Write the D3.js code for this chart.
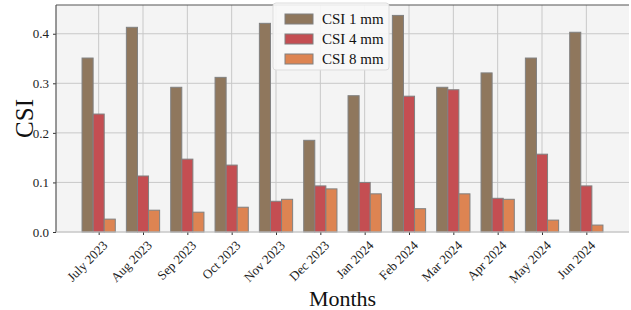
<!DOCTYPE html>
<html>
<head>
<meta charset="utf-8">
<script src="https://cdn.jsdelivr.net/npm/d3@7"></script>
<style>
  body { margin: 0; background: #fff; }
  svg { display: block; font-family: "Liberation Serif", "DejaVu Serif", serif; }
</style>
</head>
<body>
<script>
const months = ["July 2023", "Aug 2023", "Sep 2023", "Oct 2023", "Nov 2023", "Dec 2023",
  "Jan 2024", "Feb 2024", "Mar 2024", "Apr 2024", "May 2024", "Jun 2024"];
const seriesNames = ["CSI 1 mm", "CSI 4 mm", "CSI 8 mm"];
const csi1 = [0.351, 0.413, 0.292, 0.312, 0.421, 0.185, 0.275, 0.437, 0.292, 0.321, 0.351, 0.403];
const csi4 = [0.238, 0.113, 0.147, 0.135, 0.062, 0.093, 0.100, 0.274, 0.287, 0.068, 0.157, 0.093];
const csi8 = [0.026, 0.044, 0.040, 0.050, 0.066, 0.087, 0.077, 0.047, 0.077, 0.066, 0.024, 0.014];
const yTicks = [0.0, 0.1, 0.2, 0.3, 0.4];
const colors = ["#8f775d", "#c44e52", "#dd8452"];

const width = 631, height = 310;
const margin = {left: 56, top: 5, right: 2, bottom: 78};
const serif = '"Liberation Serif", "DejaVu Serif", serif';

const svg = d3.select("body").append("svg")
    .attr("width", width)
    .attr("height", height);

const bw = 0.25;
const x = d3.scaleLinear()
    .domain([-0.9625, months.length - 1 + 0.9625])
    .range([margin.left, width - margin.right]);
const y = d3.scaleLinear()
    .domain([0, 0.458])
    .range([height - margin.bottom, margin.top]);

// plot background
svg.append("rect")
    .attr("x", margin.left).attr("y", margin.top)
    .attr("width", width - margin.right - margin.left)
    .attr("height", height - margin.bottom - margin.top)
    .attr("fill", "#f4f4f4");

// grid
svg.append("g").selectAll("line.gy")
    .data(yTicks).join("line")
    .attr("x1", margin.left).attr("x2", width - margin.right)
    .attr("y1", d => y(d)).attr("y2", d => y(d))
    .attr("stroke", "#c8c8c8").attr("stroke-width", 1);
svg.append("g").selectAll("line.gx")
    .data(months).join("line")
    .attr("x1", (d, i) => x(i)).attr("x2", (d, i) => x(i))
    .attr("y1", margin.top).attr("y2", height - margin.bottom)
    .attr("stroke", "#c8c8c8").attr("stroke-width", 1);

// bars
const series = [csi1, csi4, csi8];
series.forEach((vals, s) => {
  svg.append("g").selectAll("rect")
    .data(vals).join("rect")
    .attr("x", (d, i) => x(i + (s - 1.5) * bw))
    .attr("width", x(bw) - x(0))
    .attr("y", d => y(d))
    .attr("height", d => y(0) - y(d))
    .attr("fill", colors[s])
    .attr("stroke", "#808080")
    .attr("stroke-width", 1);
});

// axes
const yAxis = svg.append("g")
    .attr("transform", `translate(${margin.left},0)`)
    .call(d3.axisLeft(y).tickValues(yTicks).tickFormat(d3.format(".1f")).tickSize(3).tickPadding(4));
yAxis.attr("font-family", serif);
yAxis.select(".domain").remove();
yAxis.selectAll("text").attr("font-size", 13).attr("fill", "#222");
yAxis.selectAll("line").attr("stroke", "#333");

const xAxis = svg.append("g")
    .attr("transform", `translate(0,${height - margin.bottom})`)
    .call(d3.axisBottom(x).tickValues(d3.range(months.length)).tickFormat(i => months[i]).tickSize(3));
xAxis.attr("font-family", serif);
xAxis.select(".domain").remove();
xAxis.selectAll("line").attr("stroke", "#333");
xAxis.selectAll("text")
    .attr("font-size", 13).attr("fill", "#222")
    .attr("text-anchor", "end")
    .attr("dy", "0")
    .attr("transform", "translate(5,10) rotate(-45)");

// spines
svg.append("line")
    .attr("x1", margin.left).attr("x2", margin.left)
    .attr("y1", margin.top).attr("y2", height - margin.bottom)
    .attr("stroke", "#555").attr("stroke-width", 1.2);
svg.append("line")
    .attr("x1", margin.left).attr("x2", width - margin.right)
    .attr("y1", margin.top).attr("y2", margin.top)
    .attr("stroke", "#555").attr("stroke-width", 1.2);
svg.append("line")
    .attr("x1", margin.left).attr("x2", width - margin.right)
    .attr("y1", height - margin.bottom).attr("y2", height - margin.bottom)
    .attr("stroke", "#c8c8c8").attr("stroke-width", 1.2);

// axis labels
svg.append("text")
    .attr("transform", `translate(24,${(margin.top + height - margin.bottom) / 2}) rotate(-90)`)
    .attr("text-anchor", "middle")
    .attr("dy", "0.35em")
    .attr("font-size", 25)
    .attr("fill", "#111")
    .text("CSI");
svg.append("text")
    .attr("x", (margin.left + width - margin.right) / 2)
    .attr("y", 306)
    .attr("text-anchor", "middle")
    .attr("font-size", 22)
    .attr("fill", "#111")
    .text("Months");

// legend
const lg = svg.append("g").attr("transform", "translate(273,3)");
lg.append("rect")
    .attr("width", 116).attr("height", 67).attr("rx", 3)
    .attr("fill", "#f8f8f8").attr("fill-opacity", 0.9)
    .attr("stroke", "#dddddd");
seriesNames.forEach((name, i) => {
  const row = lg.append("g").attr("transform", `translate(0,${16 + i * 20})`);
  row.append("rect")
      .attr("x", 12).attr("y", -5).attr("width", 28).attr("height", 10)
      .attr("fill", colors[i]).attr("stroke", "#808080");
  row.append("text")
      .attr("x", 49).attr("dy", "0.35em")
      .attr("font-size", 15).attr("fill", "#111")
      .text(name);
});
</script>
</body>
</html>
